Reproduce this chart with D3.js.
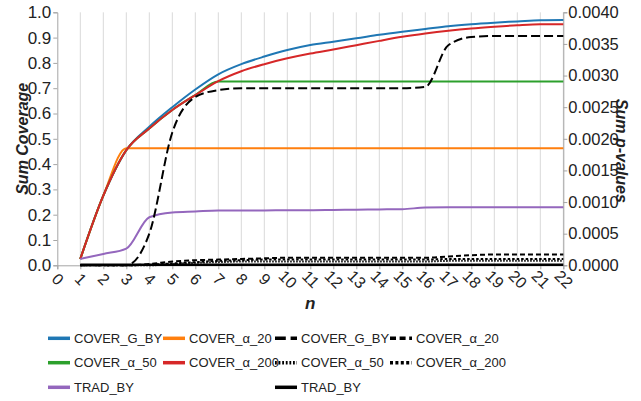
<!DOCTYPE html>
<html>
<head>
<meta charset="utf-8">
<script src="https://cdn.jsdelivr.net/npm/d3@7"></script>
<style>
  body { margin: 0; background: #fff; }
  svg text { font-family: "Liberation Sans", Arial, sans-serif; fill: #222; }
</style>
</head>
<body>
<svg id="chart" width="641" height="401"></svg>
<script>
// n values on the x axis
const nValues = d3.range(1, 23);
const xTicks = d3.range(0, 23);

// left axis: Sum Coverage
const coverGBY   = [0.025,0.275,0.455,0.548,0.625,0.695,0.755,0.795,0.825,0.851,0.871,0.884,0.897,0.911,0.923,0.934,0.945,0.953,0.959,0.964,0.969,0.970];
const coverA20   = [0.025,0.275,0.463,0.463,0.463,0.463,0.463,0.463,0.463,0.463,0.463,0.463,0.463,0.463,0.463,0.463,0.463,0.463,0.463,0.463,0.463,0.463];
const coverA50   = [0.025,0.275,0.455,0.541,0.614,0.673,0.726,0.726,0.726,0.726,0.726,0.726,0.726,0.726,0.726,0.726,0.726,0.726,0.726,0.726,0.726,0.726];
const coverA200  = [0.025,0.275,0.455,0.541,0.614,0.673,0.728,0.767,0.795,0.818,0.837,0.853,0.870,0.887,0.903,0.916,0.927,0.936,0.943,0.949,0.953,0.953];
const tradBY     = [0.025,0.045,0.066,0.190,0.209,0.213,0.217,0.217,0.217,0.218,0.218,0.219,0.220,0.221,0.222,0.228,0.229,0.229,0.229,0.229,0.229,0.229];

// right axis: Sum p-values
const pGBY   = [0,0,0,0.0005,0.0021,0.00266,0.00277,0.0028,0.0028,0.0028,0.0028,0.0028,0.0028,0.0028,0.0028,0.00282,0.00348,0.00361,0.003625,0.003625,0.003625,0.003625];
const pA20   = [0,0,0,0.00002,0.00006,0.00008,0.00009,0.0001,0.00011,0.00012,0.00012,0.00012,0.00012,0.00012,0.00012,0.00012,0.00014,0.00016,0.00017,0.00017,0.00017,0.00017];
const pA50   = [0,0,0,0,0.00002,0.00004,0.00005,0.00006,0.00006,0.00006,0.00006,0.00006,0.00006,0.00006,0.00006,0.00006,0.00007,0.00007,0.00007,0.00007,0.00007,0.00007];
const pA200  = [0,0,0,0.00001,0.00003,0.00005,0.00007,0.00008,0.00009,0.00009,0.00009,0.00009,0.00009,0.00009,0.00009,0.00009,0.0001,0.0001,0.0001,0.0001,0.0001,0.0001];
const pTrad  = [0.00001,0.00001,0.00001,0.00001,0.00001,0.00001,0.00001,0.00001,0.00001,0.00001,0.00001,0.00001,0.00001,0.00001,0.00001,0.00001,0.00001,0.00001,0.00001,0.00001,0.00001,0.00001];

const leftTicks = d3.range(0, 11).map(d => d / 10);
const rightTicks = d3.range(0, 9).map(d => d * 0.0005);

const svg = d3.select('#chart');

const render = () => {
    const margin = { top: 12.3, right: 77.7, bottom: 135.7, left: 57.3 };
    const width = +svg.attr('width');
    const height = +svg.attr('height');
    const innerWidth = width - margin.left - margin.right;
    const innerHeight = height - margin.top - margin.bottom;

    const xScale = d3.scaleLinear().domain([0, 22]).range([0, innerWidth]);
    const yLeft = d3.scaleLinear().domain([0, 1]).range([innerHeight, 0]);
    const yRight = d3.scaleLinear().domain([0, 0.004]).range([innerHeight, 0]);

    const g = svg.append('g')
        .attr('transform', `translate(${margin.left}, ${margin.top})`);

    // vertical gridlines
    g.append('g')
        .selectAll('line')
        .data(xTicks.slice(1))
        .enter()
        .append('line')
            .attr('x1', d => xScale(d))
            .attr('x2', d => xScale(d))
            .attr('y1', 0)
            .attr('y2', innerHeight)
            .attr('stroke', '#d9d9d9')
            .attr('stroke-width', 1);

    const axisColor = '#a6a6a6';

    const yAxisL = d3.axisLeft(yLeft)
        .tickValues(leftTicks)
        .tickFormat(d3.format('.1f'))
        .tickSize(4)
        .tickPadding(2);
    const yAxisLG = g.append('g').call(yAxisL);
    yAxisLG.selectAll('.domain, .tick line').attr('stroke', axisColor);
    yAxisLG.selectAll('.tick text').style('font-size', '17px');

    const yAxisR = d3.axisRight(yRight)
        .tickValues(rightTicks)
        .tickFormat(d3.format('.4f'))
        .tickSize(4)
        .tickPadding(1);
    const yAxisRG = g.append('g')
        .attr('transform', `translate(${innerWidth}, 0)`)
        .call(yAxisR);
    yAxisRG.selectAll('.domain, .tick line').attr('stroke', axisColor);
    yAxisRG.selectAll('.tick text').style('font-size', '16.5px');

    const xAxis = d3.axisBottom(xScale)
        .tickValues(xTicks)
        .tickFormat(d3.format('d'))
        .tickSize(4);
    const xAxisG = g.append('g')
        .attr('transform', `translate(0, ${innerHeight})`)
        .call(xAxis);
    xAxisG.selectAll('.domain, .tick line').attr('stroke', axisColor);
    xAxisG.selectAll('.tick text')
        .attr('y', 0)
        .attr('dy', 0)
        .attr('text-anchor', 'middle')
        .attr('dominant-baseline', 'central')
        .attr('transform', 'translate(0, 14) rotate(45)')
        .style('font-size', '16px');

    // axis titles
    g.append('text')
        .attr('transform', `translate(${22 - margin.left}, ${innerHeight / 2}) rotate(-90)`)
        .attr('text-anchor', 'middle')
        .attr('dominant-baseline', 'central')
        .style('font-size', '16px')
        .style('font-weight', 'bold')
        .style('font-style', 'italic')
        .text('Sum Coverage');

    g.append('text')
        .attr('transform', `translate(${innerWidth + 58}, ${innerHeight / 2 + 12}) rotate(90)`)
        .attr('text-anchor', 'middle')
        .attr('dominant-baseline', 'central')
        .style('font-size', '16px')
        .style('font-weight', 'bold')
        .style('font-style', 'italic')
        .text('Sum p-values');

    g.append('text')
        .attr('x', xScale(11))
        .attr('y', innerHeight + 38)
        .attr('text-anchor', 'middle')
        .attr('dominant-baseline', 'central')
        .style('font-size', '17px')
        .style('font-weight', 'bold')
        .style('font-style', 'italic')
        .text('n');

    const series = [
        { name: 'COVER_G_BY', values: coverGBY, axis: 'L', color: '#1f77b4', dash: null, w: 2 },
        { name: 'COVER_α_20', values: coverA20, axis: 'L', color: '#ff7f0e', dash: null, w: 2 },
        { name: 'COVER_α_50', values: coverA50, axis: 'L', color: '#2ca02c', dash: null, w: 2 },
        { name: 'COVER_α_200', values: coverA200, axis: 'L', color: '#d62728', dash: null, w: 2 },
        { name: 'TRAD_BY', values: tradBY, axis: 'L', color: '#9467bd', dash: null, w: 2 },
        { name: 'COVER_G_BY', values: pGBY, axis: 'R', color: '#000', dash: '9,4', w: 2 },
        { name: 'COVER_α_20', values: pA20, axis: 'R', color: '#000', dash: '5,3', w: 2 },
        { name: 'COVER_α_50', values: pA50, axis: 'R', color: '#000', dash: '1.5,1.5', w: 2 },
        { name: 'COVER_α_200', values: pA200, axis: 'R', color: '#000', dash: '2.5,2', w: 2 },
        { name: 'TRAD_BY', values: pTrad, axis: 'R', color: '#000', dash: null, w: 2.5 }
    ];

    series.forEach(s => {
        const yScale = s.axis === 'L' ? yLeft : yRight;
        const line = d3.line()
            .x((d, i) => xScale(nValues[i]))
            .y(d => yScale(d))
            .curve(d3.curveMonotoneX);
        g.append('path')
            .datum(s.values)
            .attr('d', line)
            .attr('fill', 'none')
            .attr('stroke', s.color)
            .attr('stroke-width', s.w)
            .attr('stroke-dasharray', s.dash);
    });

    // legend, 4 columns x 3 rows
    const legendOrder = [0, 1, 5, 6, 2, 3, 7, 8, 4, null, 9, null];
    const colX = [48, 163, 275, 390];
    const rowY = [338.3, 362.7, 387.3];
    const lg = svg.append('g');
    legendOrder.forEach((idx, k) => {
        if (idx === null) return;
        const s = series[idx];
        const x = colX[k % 4];
        const y = rowY[Math.floor(k / 4)];
        lg.append('line')
            .attr('x1', x).attr('x2', x + 22)
            .attr('y1', y).attr('y2', y)
            .attr('stroke', s.color)
            .attr('stroke-width', 3.5)
            .attr('stroke-dasharray', s.dash ? s.dash.split(',').map(v => +v * 1.2).join(',') : null);
        lg.append('text')
            .attr('x', x + 26)
            .attr('y', y)
            .attr('dominant-baseline', 'central')
            .style('font-size', '13px')
            .text(s.name);
    });
};

render();
</script>
</body>
</html>
